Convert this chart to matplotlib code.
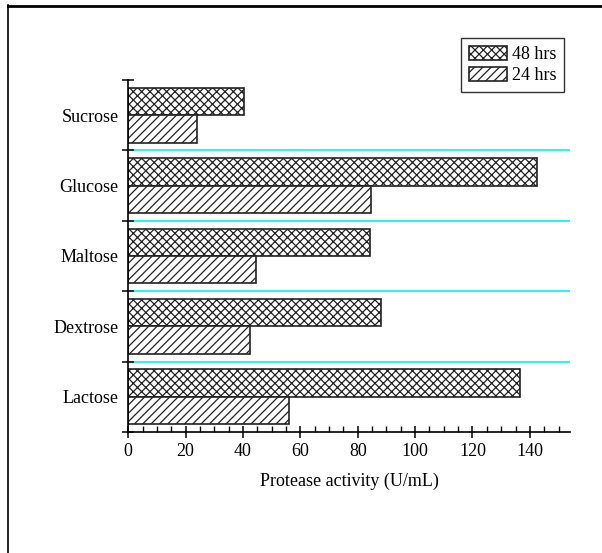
import matplotlib
matplotlib.use("Agg")
import matplotlib.pyplot as plt
from matplotlib.lines import Line2D
from matplotlib.ticker import MultipleLocator, FixedLocator, NullFormatter
import numpy as np

plt.rcParams["font.family"] = ["Liberation Serif", "DejaVu Serif"]
plt.rcParams["font.size"] = 13
plt.rcParams["hatch.linewidth"] = 0.9

# Carbon sources (bottom to top) and protease activity (U/mL)
sugars = ["Lactose", "Dextrose", "Maltose", "Glucose", "Sucrose"]
activity_48h = [136.5, 88.0, 84.3, 142.5, 40.4]
activity_24h = [56.1, 42.6, 44.4, 84.5, 24.0]
series_labels = ["48 hrs", "24 hrs"]

W, H = 602, 553
fig = plt.figure(figsize=(W / 100, H / 100), dpi=100)
ax = fig.add_axes([128.3 / W, 1 - 432 / H, (570 - 128.3) / W, (432 - 80) / H])

pos = np.arange(len(sugars))
bh = 0.39
b48 = ax.barh(pos + bh / 2, activity_48h, height=bh, color="white",
              edgecolor="#222222", linewidth=1.2, hatch="xxxx", label=series_labels[0])
b24 = ax.barh(pos - bh / 2, activity_24h, height=bh, color="white",
              edgecolor="#222222", linewidth=1.2, hatch="////", label=series_labels[1])

# separators between groups
for y in pos[:-1] + 0.5:
    ax.axhline(y, xmin=0.006, xmax=1, color="#33f2f2", linewidth=1.5, zorder=0)

ax.set_xlim(0, 154)
ax.set_ylim(-0.5, len(sugars) - 0.5)

ax.spines["top"].set_visible(False)
ax.spines["right"].set_visible(False)
for s in ("left", "bottom"):
    ax.spines[s].set_linewidth(1.2)

ax.xaxis.set_major_locator(MultipleLocator(20))
ax.xaxis.set_minor_locator(MultipleLocator(5))
ax.tick_params(axis="x", which="major", direction="inout", length=8, width=1.1, pad=4)
ax.tick_params(axis="x", which="minor", direction="in", length=4, width=1.0)

# group boundary ticks (major) and centred category labels (minor)
ax.yaxis.set_major_locator(FixedLocator(np.arange(len(sugars) + 1) - 0.5))
ax.yaxis.set_major_formatter(NullFormatter())
ax.yaxis.set_minor_locator(FixedLocator(pos))
ax.set_yticklabels(sugars, minor=True)
ax.tick_params(axis="y", which="major", direction="inout", length=8, width=1.1)
ax.tick_params(axis="y", which="minor", length=0, pad=7)

ax.set_xlabel("Protease activity (U/mL)", labelpad=9)

leg = fig.legend(handles=[b48, b24], labels=series_labels, loc="upper right",
                 bbox_to_anchor=(564 / W, 1 - 38 / H), bbox_transform=fig.transFigure,
                 borderaxespad=0, fancybox=False, frameon=True, edgecolor="black",
                 handlelength=2.1, handleheight=0.85, handletextpad=0.3,
                 labelspacing=0.2, borderpad=0.42)
leg.get_frame().set_linewidth(1.0)

# page frame lines
fig.add_artist(Line2D([8 / W, 1], [1 - 5.5 / H, 1 - 5.5 / H], transform=fig.transFigure,
                      color="black", linewidth=2.0))
fig.add_artist(Line2D([8 / W, 8 / W], [0, 1 - 5 / H], transform=fig.transFigure,
                      color="black", linewidth=1.2))

fig.savefig("out.png", dpi=100)
